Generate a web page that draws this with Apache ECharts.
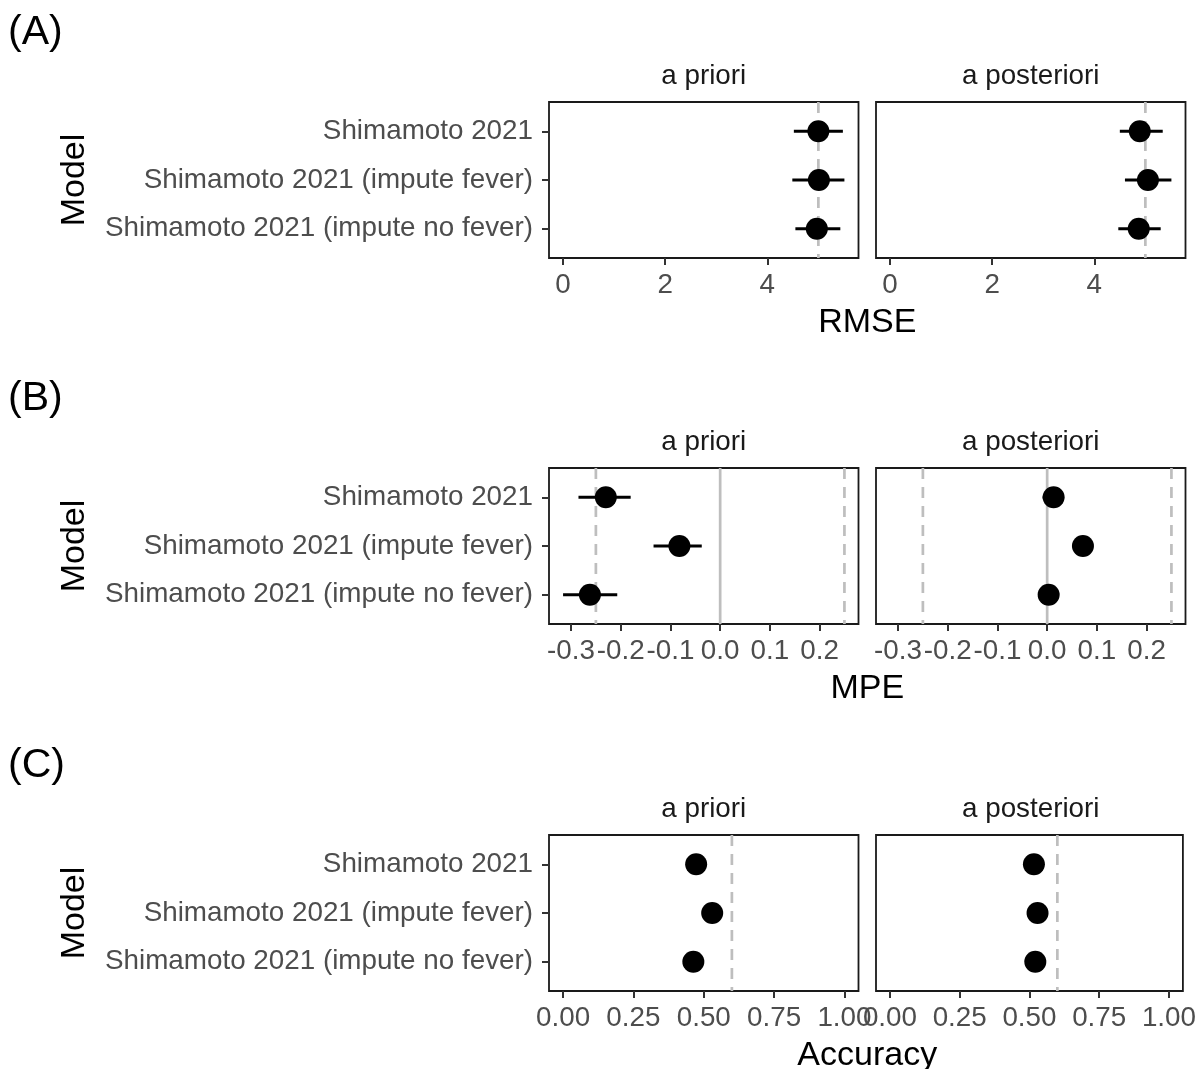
<!DOCTYPE html>
<html>
<head>
<meta charset="utf-8">
<script src="https://cdn.jsdelivr.net/npm/echarts@6/dist/echarts.min.js"></script>
<style>
html,body{margin:0;padding:0;background:#fff;}
#chart{width:1199px;height:1069px;}
</style>
</head>
<body>
<div id="chart"></div>
<script>
// ---------- data ----------
const categories = ['Shimamoto 2021', 'Shimamoto 2021 (impute fever)', 'Shimamoto 2021 (impute no fever)'];
const facets = ['a priori', 'a posteriori'];

const rmsePrioriEst = [5.00, 5.01, 4.97];
const rmsePrioriLo  = [4.52, 4.49, 4.55];
const rmsePrioriHi  = [5.48, 5.51, 5.43];
const rmsePostEst   = [4.89, 5.05, 4.87];
const rmsePostLo    = [4.50, 4.60, 4.47];
const rmsePostHi    = [5.34, 5.51, 5.30];
const rmseRefDashed = [5.0];
const rmseRefSolid  = [];
const rmseTicks     = [0, 2, 4];

const mpePrioriEst  = [-0.230, -0.082, -0.262];
const mpePrioriLo   = [-0.285, -0.134, -0.316];
const mpePrioriHi   = [-0.180, -0.037, -0.207];
const mpePostEst    = [0.013, 0.072, 0.003];
const mpePostLo     = [-0.009, 0.052, -0.018];
const mpePostHi     = [0.034, 0.092, 0.024];
const mpeRefDashed  = [-0.25, 0.25];
const mpeRefSolid   = [0];
const mpeTicks      = [-0.3, -0.2, -0.1, 0.0, 0.1, 0.2];

const accPrioriEst  = [0.473, 0.530, 0.463];
const accPrioriLo   = [0.473, 0.530, 0.463];
const accPrioriHi   = [0.473, 0.530, 0.463];
const accPostEst    = [0.516, 0.529, 0.521];
const accPostLo     = [0.516, 0.529, 0.521];
const accPostHi     = [0.516, 0.529, 0.521];
const accRefDashed  = [0.6];
const accRefSolid   = [];
const accTicks      = [0, 0.25, 0.5, 0.75, 1.0];

// ---------- layout ----------
const FONT = '"Liberation Sans", Arial, Helvetica, sans-serif';
const TXT = 27.8;
const panels = [
  {letter:'(A)', title:'RMSE', top:102, xmin:-0.2755, xmax:5.786, ticks:rmseTicks, dec:0,
   est:[rmsePrioriEst, rmsePostEst], lo:[rmsePrioriLo, rmsePostLo], hi:[rmsePrioriHi, rmsePostHi],
   dashed:rmseRefDashed, solid:rmseRefSolid},
  {letter:'(B)', title:'MPE', top:468, xmin:-0.3443, xmax:0.2783, ticks:mpeTicks, dec:1,
   est:[mpePrioriEst, mpePostEst], lo:[mpePrioriLo, mpePostLo], hi:[mpePrioriHi, mpePostHi],
   dashed:mpeRefDashed, solid:mpeRefSolid},
  {letter:'(C)', title:'Accuracy', top:835, xmin:-0.05, xmax:1.05, ticks:accTicks, dec:2,
   est:[accPrioriEst, accPostEst], lo:[accPrioriLo, accPostLo], hi:[accPrioriHi, accPostHi],
   dashed:accRefDashed, solid:accRefSolid}
];
const lefts = [549, 876];
const W = 309.5, H = 156;

const grid = [], xAxis = [], yAxis = [], series = [], graphic = [];

panels.forEach((p, pi) => {
  [0, 1].forEach(f => {
    const gi = pi * 2 + f;
    grid.push({left: lefts[f], top: p.top, width: W, height: H, show: true,
      borderColor: '#1a1a1a', borderWidth: 1.8, backgroundColor: '#fff'});
    xAxis.push({type: 'value', gridIndex: gi, min: p.xmin, max: p.xmax,
      splitLine: {show: false}, axisLine: {show: false, onZero: false},
      axisTick: {show: true, length: 7, customValues: p.ticks, lineStyle: {color: '#333', width: 2}},
      axisLabel: {show: true, customValues: p.ticks, margin: 13, color: '#4d4d4d',
        fontSize: TXT, fontFamily: FONT, hideOverlap: false,
        formatter: v => Number(v).toFixed(p.dec)}});
    yAxis.push({type: 'value', gridIndex: gi, min: 0.4, max: 3.6, inverse: true,
      splitLine: {show: false}, axisLine: {show: false, onZero: false},
      axisTick: {show: f === 0, length: 7, customValues: [1, 2, 3], lineStyle: {color: '#333', width: 2}},
      axisLabel: {show: f === 0, customValues: [1, 2, 3], margin: 16, color: '#4d4d4d',
        fontSize: TXT, fontFamily: FONT, formatter: v => categories[Math.round(v) - 1]}});

    // reference lines
    const refData = p.solid.map(v => [v, 2, 0]).concat(p.dashed.map(v => [v, 2, 1]));
    series.push({type: 'custom', xAxisIndex: gi, yAxisIndex: gi, z: 1, silent: true,
      encode: {x: 0, y: 1}, data: refData,
      renderItem: (params, api) => {
        const c = api.coord([api.value(0), api.value(1)]);
        const cs = params.coordSys;
        return {type: 'line', shape: {x1: c[0], y1: cs.y, x2: c[0], y2: cs.y + cs.height},
          style: {stroke: '#bebebe', lineWidth: 2.7, lineDash: api.value(2) ? [11, 8] : null}};
      }});
    // error bars
    const ebData = categories.map((c, i) => [p.lo[f][i], p.hi[f][i], i + 1]);
    series.push({type: 'custom', xAxisIndex: gi, yAxisIndex: gi, z: 2, silent: true,
      encode: {x: [0, 1], y: 2}, data: ebData,
      renderItem: (params, api) => {
        const a = api.coord([api.value(0), api.value(2)]);
        const b = api.coord([api.value(1), api.value(2)]);
        return {type: 'line', shape: {x1: a[0], y1: a[1], x2: b[0], y2: b[1]},
          style: {stroke: '#000', lineWidth: 3}};
      }});
    // points
    series.push({type: 'scatter', xAxisIndex: gi, yAxisIndex: gi, z: 3, silent: true,
      symbol: 'circle', symbolSize: 22, itemStyle: {color: '#000', opacity: 1},
      data: categories.map((c, i) => [p.est[f][i], i + 1])});

    // strip label
    graphic.push({type: 'text', x: lefts[f] + W / 2, y: p.top - 26, silent: true,
      style: {text: facets[f], fill: '#1a1a1a', fontSize: TXT, fontFamily: FONT,
        align: 'center', verticalAlign: 'middle'}});
  });
  graphic.push({type: 'text', x: 8, y: p.top - 69, silent: true,
    style: {text: p.letter, fill: '#000', fontSize: 41, fontFamily: FONT, align: 'left', verticalAlign: 'middle'}});
  graphic.push({type: 'text', x: (lefts[0] + lefts[1] + W) / 2, y: p.top + 221, silent: true,
    style: {text: p.title, fill: '#000', fontSize: 34, fontFamily: FONT, align: 'center', verticalAlign: 'middle'}});
  graphic.push({type: 'text', x: 75, y: p.top + H / 2, rotation: Math.PI / 2, silent: true,
    style: {text: 'Model', fill: '#000', fontSize: 34, fontFamily: FONT, align: 'center', verticalAlign: 'middle'}});
});

const chart = echarts.init(document.getElementById('chart'), null, {renderer: 'canvas'});
chart.setOption({animation: false, backgroundColor: '#fff', grid, xAxis, yAxis, series, graphic});
</script>
</body>
</html>
